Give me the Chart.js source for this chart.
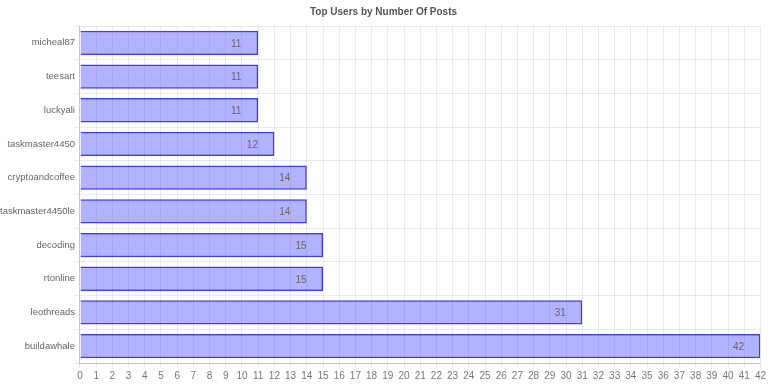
<!DOCTYPE html>
<html>
<head>
<meta charset="utf-8">
<script src="https://cdn.jsdelivr.net/npm/chart.js@4/dist/chart.umd.min.js"></script>
<style>
  html, body { margin: 0; padding: 0; background: #fff; }
  #wrap { width: 768px; height: 384px; }
</style>
</head>
<body>
<div id="wrap"><canvas id="graphe-posts"></canvas></div>
<script>
const users = ['micheal87', 'teesart', 'luckyali', 'taskmaster4450', 'cryptoandcoffee',
  'taskmaster4450le', 'decoding', 'rtonline', 'leothreads', 'buildawhale']
const posts = [11, 11, 11, 12, 14, 14, 15, 15, 31, 42]
const xMax = 42

// petit plugin pour ecrire la valeur au bout de chaque barre
const valeurs = {
  id: 'valeurs',
  afterDatasetsDraw(chart) {
    const ctx = chart.ctx
    const meta = chart.getDatasetMeta(0)
    ctx.save()
    ctx.font = '10px "Liberation Sans", Arial, sans-serif'
    ctx.fillStyle = '#666'
    ctx.textAlign = 'center'
    ctx.textBaseline = 'middle'
    meta.data.forEach((bar, i) => {
      ctx.fillText(posts[i], bar.x - 22, bar.y + 1)
    })
    ctx.restore()
  }
}

const ctx = document.getElementById('graphe-posts')
new Chart(ctx, {
  type: 'bar',
  data: {
    labels: users,
    datasets: [{
      label: 'Posts',
      data: posts,
      backgroundColor: 'rgba(0, 0, 255, 0.3)',
      borderColor: 'rgba(40, 40, 240, 0.9)',
      borderWidth: 1.5
    }]
  },
  options: {
    indexAxis: 'y',
    responsive: true,
    maintainAspectRatio: false,
    animation: false,
    layout: { padding: { left: 0, right: 1, top: 0, bottom: 0 } },
    plugins: {
      legend: { display: false },
      tooltip: { enabled: false },
      title: {
        display: true,
        text: 'Top Users by Number Of Posts',
        color: '#555',
        font: { family: '"Liberation Sans", Arial, sans-serif', size: 10, weight: 'bold' },
        padding: { top: 6, bottom: 8 }
      }
    },
    scales: {
      x: {
        min: 0,
        max: xMax,
        ticks: {
          stepSize: 1,
          autoSkip: false,
          maxRotation: 0,
          minRotation: 0,
          padding: 2,
          color: '#777',
          font: { family: '"Liberation Sans", Arial, sans-serif', size: 10 }
        },
        grid: { color: 'rgba(0,0,0,0.08)', tickLength: 5 },
        border: { color: 'rgba(0,0,0,0.15)' }
      },
      y: {
        ticks: {
          color: '#666',
          padding: 0,
          font: { family: '"Liberation Sans", Arial, sans-serif', size: 9.5 }
        },
        grid: { color: 'rgba(0,0,0,0.08)', offset: true, tickLength: 5 },
        border: { color: 'rgba(0,0,0,0.15)' }
      }
    }
  },
  plugins: [valeurs]
})
</script>
</body>
</html>
